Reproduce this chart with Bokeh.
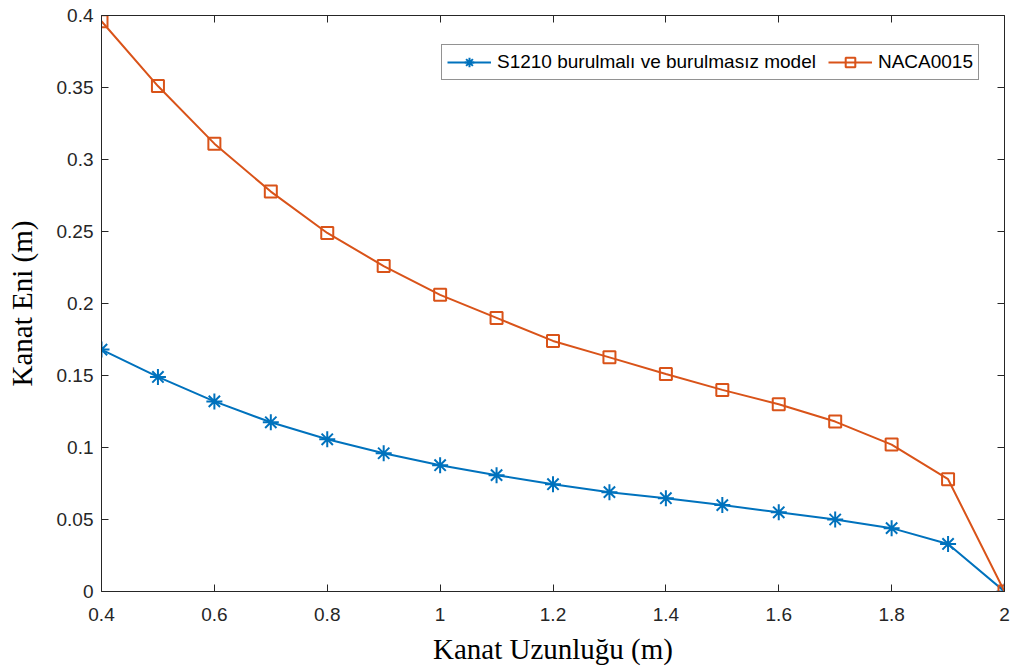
from bokeh.plotting import figure
from bokeh.models import Range1d, LinearAxis, FixedTicker, Legend
from bokeh.embed import file_html
from bokeh.resources import INLINE

x_vals = [0.4, 0.5, 0.6, 0.7, 0.8, 0.9, 1.0, 1.1, 1.2, 1.3, 1.4, 1.5, 1.6, 1.7, 1.8, 1.9, 2.0]
s1210 = [0.168, 0.149, 0.132, 0.1175, 0.1057, 0.096, 0.0877, 0.0808, 0.0745, 0.069, 0.0648,
         0.060, 0.055, 0.050, 0.044, 0.033, 0.0]
naca0015 = [0.396, 0.351, 0.311, 0.2777, 0.249, 0.226, 0.206, 0.190, 0.174, 0.1626, 0.151,
            0.140, 0.130, 0.118, 0.102, 0.078, 0.0]

x_ticks = [0.4, 0.6, 0.8, 1.0, 1.2, 1.4, 1.6, 1.8, 2.0]
x_tick_labels = ["0.4", "0.6", "0.8", "1", "1.2", "1.4", "1.6", "1.8", "2"]
y_ticks = [0, 0.05, 0.1, 0.15, 0.2, 0.25, 0.3, 0.35, 0.4]
y_tick_labels = ["0", "0.05", "0.1", "0.15", "0.2", "0.25", "0.3", "0.35", "0.4"]

label_s1210 = "S1210 burulmalı ve burulmasız model"
label_naca = "NACA0015"

BLUE = "#0072BD"
ORANGE = "#D95319"
AX = "#262626"

p = figure(width=1011, height=670, output_backend="svg", toolbar_location=None,
           x_range=Range1d(0.4, 2.0), y_range=Range1d(0, 0.4),
           min_border_left=101, min_border_right=7, min_border_top=15, min_border_bottom=79)
p.outline_line_color = None
p.xgrid.visible = False
p.ygrid.visible = False
p.background_fill_color = "white"
p.border_fill_color = "white"

r1 = p.line(x_vals, s1210, line_color=BLUE, line_width=2)
r1m = p.scatter(x_vals, s1210, marker="asterisk", size=16, line_color=BLUE, line_width=2)
r2 = p.line(x_vals, naca0015, line_color=ORANGE, line_width=2)
r2m = p.scatter(x_vals, naca0015, marker="square", size=12, line_color=ORANGE,
                fill_color=None, line_width=2)

def style_axis(ax, ticks, labels, show_labels=True):
    ax.ticker = FixedTicker(ticks=ticks)
    ax.major_label_overrides = {t: l for t, l in zip(ticks, labels)}
    ax.minor_tick_line_color = None
    ax.major_tick_in = 7
    ax.major_tick_out = 0
    ax.axis_line_color = AX
    ax.major_tick_line_color = AX
    ax.axis_line_width = 1
    ax.major_label_text_font = "Liberation Sans"
    ax.major_label_text_font_size = "19px"
    ax.major_label_text_color = AX if show_labels else None

style_axis(p.xaxis[0], x_ticks, x_tick_labels)
style_axis(p.yaxis[0], y_ticks, y_tick_labels)
p.xaxis[0].major_label_standoff = 16
p.yaxis[0].major_label_standoff = 8
p.xaxis[0].axis_label = "Kanat Uzunluğu (m)"
p.yaxis[0].axis_label = "Kanat Eni (m)"
for ax in (p.xaxis[0], p.yaxis[0]):
    ax.axis_label_text_font = "Liberation Serif"
    ax.axis_label_text_font_size = "29px"
    ax.axis_label_text_font_style = "normal"
    ax.axis_label_text_color = "black"
p.xaxis[0].axis_label_standoff = 9
p.yaxis[0].axis_label_standoff = 16

top = LinearAxis()
style_axis(top, x_ticks, x_tick_labels, show_labels=False)
top.major_label_text_font_size = "0px"
top.major_label_standoff = 0
right = LinearAxis()
style_axis(right, y_ticks, y_tick_labels, show_labels=False)
right.major_label_text_font_size = "0px"
right.major_label_standoff = 0
p.add_layout(top, "above")
p.add_layout(right, "right")

legend = Legend(items=[(label_s1210, [r1, r1m]), (label_naca, [r2, r2m])],
                orientation="horizontal", location=(340, 511))
legend.label_text_font = "Liberation Sans"
legend.label_text_font_size = "19px"
legend.label_text_color = "black"
legend.glyph_width = 44
legend.glyph_height = 24
legend.label_standoff = 6
legend.spacing = 12
legend.padding = 5
legend.margin = 0
legend.border_line_color = AX
legend.border_line_width = 1
legend.background_fill_color = "white"
legend.background_fill_alpha = 1
p.add_layout(legend, "center")

open("out.html", "w").write(file_html(p, INLINE))
